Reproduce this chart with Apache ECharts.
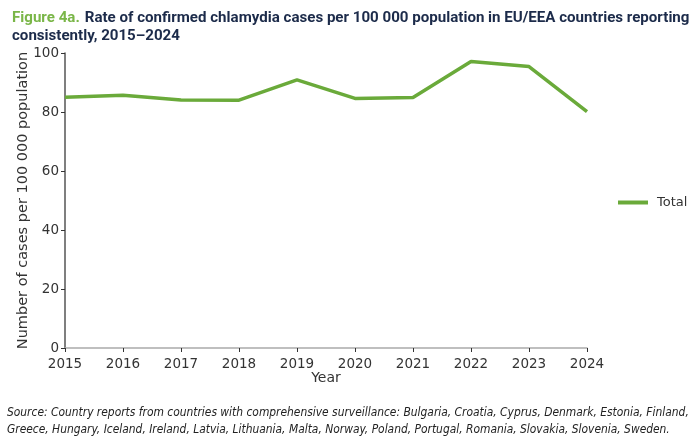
<!DOCTYPE html>
<html>
<head>
<meta charset="utf-8">
<script src="https://cdn.jsdelivr.net/npm/echarts@6/dist/echarts.min.js"></script>
<style>
html, body { margin: 0; padding: 0; background: #fff; }
#main { width: 700px; height: 441px; }
</style>
</head>
<body>
<div id="main"></div>
<script>
var years = ['2015', '2016', '2017', '2018', '2019', '2020', '2021', '2022', '2023', '2024'];
var totalRate = [85.0, 85.7, 84.1, 84.0, 90.9, 84.6, 84.9, 97.1, 95.4, 80.1];

var chart = echarts.init(document.getElementById('main'));

var option = {
    animation: false,
    title: {
        left: 7,
        top: 4,
        text: '{g|Figure 4a.} {b|Rate of confirmed chlamydia cases per 100 000 population in EU/EEA countries reporting}\n{b|consistently, 2015\u20132024}',
        textStyle: {
            rich: {
                g: { color: '#7ab648', fontSize: 15.1, fontFamily: 'Roboto', fontWeight: 'bold', lineHeight: 18 },
                b: { color: '#1c2b4a', fontSize: 15.1, fontFamily: 'Roboto', fontWeight: 'bold', lineHeight: 18 }
            }
        }
    },
    grid: {
        left: 65,
        right: 113,
        top: 53,
        bottom: 93
    },
    legend: {
        orient: 'vertical',
        left: 613,
        top: 191,
        itemWidth: 30,
        itemHeight: 4,
        icon: 'rect',
        textStyle: { fontFamily: 'DejaVu Sans', fontSize: 13, color: '#333', padding: [0, 0, 0, 4] },
        data: ['Total']
    },
    xAxis: {
        type: 'category',
        data: years,
        boundaryGap: false,
        name: 'Year',
        nameLocation: 'middle',
        nameGap: 23,
        nameMoveOverlap: false,
        nameTextStyle: { fontFamily: 'DejaVu Sans', fontSize: 14, color: '#333' },
        axisLine: { lineStyle: { color: '#aaa', width: 1.5 } },
        axisTick: { alignWithLabel: true, length: 4, lineStyle: { color: '#333' } },
        axisLabel: { fontFamily: 'DejaVu Sans', fontSize: 13.5, color: '#333', margin: 9 }
    },
    yAxis: {
        type: 'value',
        min: 0,
        max: 100,
        interval: 20,
        name: 'Number of cases per 100 000 population',
        nameLocation: 'middle',
        nameGap: 34,
        nameMoveOverlap: false,
        nameTextStyle: { fontFamily: 'DejaVu Sans', fontSize: 14.5, color: '#333' },
        axisLine: { show: true, lineStyle: { color: '#555', width: 1.5 } },
        axisTick: { show: true, length: 4, lineStyle: { color: '#333' } },
        axisLabel: { fontFamily: 'DejaVu Sans', fontSize: 13.5, color: '#333', margin: 6 },
        splitLine: { show: false }
    },
    series: [{
        name: 'Total',
        type: 'line',
        data: totalRate,
        symbol: 'none',
        lineStyle: { color: '#6aaa3a', width: 3.5 },
        itemStyle: { color: '#6aaa3a' }
    }],
    graphic: [{
        type: 'text',
        left: 7,
        top: 404,
        style: {
            text: 'Source: Country reports from countries with comprehensive surveillance: Bulgaria, Croatia, Cyprus, Denmark, Estonia, Finland,\nGreece, Hungary, Iceland, Ireland, Latvia, Lithuania, Malta, Norway, Poland, Portugal, Romania, Slovakia, Slovenia, Sweden.',
            font: 'italic 11.9px "DejaVu Sans Condensed"',
            fill: '#222',
            lineHeight: 17
        }
    }]
};

chart.setOption(option);
</script>
</body>
</html>
